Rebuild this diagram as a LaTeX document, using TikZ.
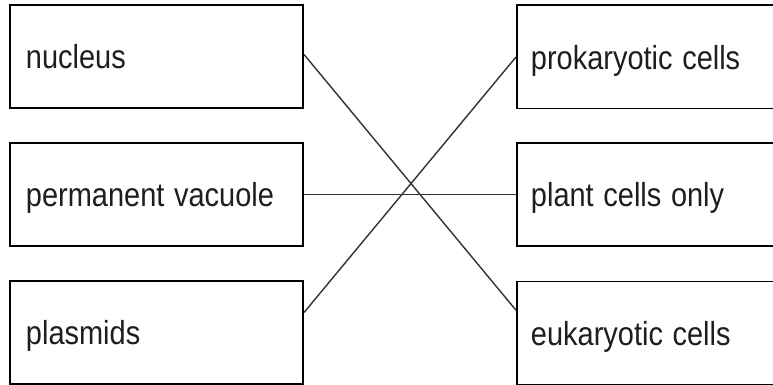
\documentclass[tikz,border=0pt]{standalone}
\usepackage{fontspec}
\setmainfont{Liberation Sans}
\usepackage{tikz}
\definecolor{white}{rgb}{1.0, 1.0, 1.0}
\definecolor{ink}{RGB}{30,30,34}
\definecolor{wire}{RGB}{50,50,50}
\pgfdeclarelayer{edgelayer}
\pgfdeclarelayer{nodelayer}
\pgfsetlayers{edgelayer,nodelayer,main}
\newcommand{\tall}[1]{\scalebox{1}[1.15]{#1}}
\tikzstyle{lbox}=[rectangle,fill=white,draw=black,line width=1.4pt,minimum width=7.325cm,minimum height=2.575cm,inner xsep=0.4cm,text width=6.525cm,align=left,text height=0.74cm,text depth=0.12cm,text=ink,font=\fontsize{20.6}{24}\selectfont]
\tikzstyle{rbox}=[lbox,minimum width=7.075cm,inner xsep=0.35cm,text width=6.375cm]
\tikzstyle{link}=[draw=wire,line width=1pt]

\begin{document}
\begin{tikzpicture}[x=0.025cm, y=-0.025cm]
        \clip (0, 0) rectangle (773, 385);
        \begin{pgfonlayer}{nodelayer}
            \node [style = lbox] (nucleus) at (156.5, 56.5) {\tall{nucleus}};
            \node [style = lbox] (vacuole) at (156.5, 194.5) {\tall{permanent vacuole}};
            \node [style = lbox] (plasmids) at (156.5, 332.5) {\tall{plasmids}};

            \node [style = rbox] (prok) at (658.5, 57) {\tall{prokaryotic cells}};
            \node [style = rbox] (plant) at (658.5, 194.5) {\tall{plant cells only}};
            \node [style = rbox] (euk) at (658.5, 333) {\tall{eukaryotic cells}};
        \end{pgfonlayer}

        \begin{pgfonlayer}{edgelayer}
            \draw [style = link] ([yshift=0.05cm]nucleus.east) to ([yshift=0.57cm]euk.west);
            \draw [style = link] (vacuole.east) to (plant.west);
            \draw [style = link] ([yshift=0.5cm]plasmids.east) to (prok.west);
        \end{pgfonlayer}
    \end{tikzpicture}
\end{document}
